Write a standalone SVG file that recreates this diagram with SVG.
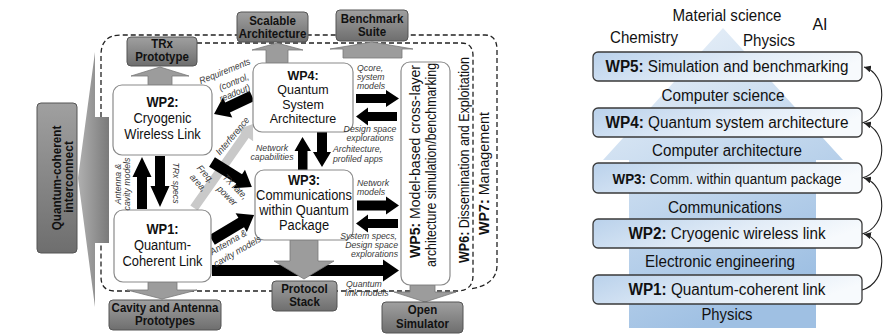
<svg xmlns="http://www.w3.org/2000/svg" width="896" height="334" viewBox="0 0 896 334">
<defs>
<linearGradient id="gbox" x1="0" y1="0" x2="0" y2="1"><stop offset="0" stop-color="#a0a0a0"/><stop offset="1" stop-color="#6e6e6e"/></linearGradient>
<linearGradient id="gtri" x1="0" y1="0" x2="1" y2="0"><stop offset="0" stop-color="#b0b0b0"/><stop offset="1" stop-color="#7a7a7a"/></linearGradient>
<linearGradient id="gblue" x1="0" y1="0" x2="0.4" y2="1"><stop offset="0" stop-color="#eef4fa"/><stop offset="0.5" stop-color="#c8dbef"/><stop offset="1" stop-color="#9fc0e3"/></linearGradient>
<linearGradient id="gwp" x1="0" y1="0" x2="1" y2="0.3"><stop offset="0" stop-color="#b9d1eb"/><stop offset="0.6" stop-color="#e2ecf7"/><stop offset="1" stop-color="#f7fafd"/></linearGradient>
<marker id="ah" viewBox="0 0 8 8" refX="8" refY="4" markerWidth="7" markerHeight="7" markerUnits="userSpaceOnUse" orient="auto"><path d="M0,0 L8,4 L0,8 z" fill="#222"/></marker>
<style>
.t{font-family:"Liberation Sans",Arial,sans-serif;fill:#111}
.bx14{font-size:14px;text-anchor:middle}
.bx13{font-size:13px;text-anchor:middle}
.gl{font-size:12.5px;font-weight:bold;text-anchor:middle}
.lb{font-size:9.5px;font-style:italic;fill:#3a3a3a}
.wb{fill:#fff;stroke:#8a8a8a;stroke-width:1.2}
.gb{fill:url(#gbox);stroke:#555;stroke-width:1}
.ga{fill:#9c9c9c;stroke:#7a7a7a;stroke-width:0.8}
.ba{fill:#000}
.dash{fill:none;stroke:#222;stroke-width:1.3;stroke-dasharray:5 3}
.rb{fill:url(#gwp);stroke:#3a3a3a;stroke-width:1.3}
.rt{font-size:16px;text-anchor:middle}
.rt14{font-size:14px;text-anchor:middle}
.cv{fill:none;stroke:#222;stroke-width:1.1}
</style>
</defs>
<rect width="896" height="334" fill="#fff"/>

<g id="boundaries">
<path class="dash" d="M101,117 V55 Q101,35 121,35 H485 Q497,35 497,50 V265 Q497,285 470,289"/>
<path class="dash" d="M197,43 H461 Q473,43 473,56 V275 Q473,291 457,291 H115 Q101,291 101,277 V243"/>
</g>

<g id="connectors">
<polygon points="95,52 95,117 109,117 109,243 95,243 95,307 78,178" fill="url(#gtri)"/>
<polygon class="ga" points="148,85 148,76 131,76 160,67 189,76 172,76 172,85"/>
<polygon class="ga" points="266,63 266,50 252,50 277,43 303,50 288,50 288,63"/>
<polygon class="ga" points="343,58 343,49 330,49 372,42 413,49 402,49 402,58"/>
<polygon class="ga" points="148,282 177,282 177,290 197,290 162,299 127,290 148,290"/>
<polygon class="ga" points="410,285 435,285 435,292 456,292 425,302 394,292 410,292"/>
<polygon class="ba" points="212,265 383,265 383,259.5 399,270.5 383,281.5 383,276 212,276"/>
<polygon class="ga" points="290,240 318,240 318,261 334,261 304,279 274,261 290,261"/>
<polygon fill="#c9c9c9" points="0,-4.5 88.6,-4.5 88.6,-10 102.6,0 88.6,10 88.6,4.5 0,4.5" transform="translate(194,208) rotate(-54.9)"/>
<polygon class="ba" points="0,-5.5 27,-5.5 27,-11 42,0 27,11 27,5.5 0,5.5" transform="translate(252,96) rotate(154.7)"/>
<polygon class="ba" points="0,-5.5 32,-5.5 32,-11 47,0 32,11 32,5.5 0,5.5" transform="translate(212,162) rotate(32)"/>
<polygon class="ba" points="0,-5.5 34,-5.5 34,-11 49,0 34,11 34,5.5 0,5.5" transform="translate(212,240) rotate(-30.8)"/>
<polygon class="ba" points="137,209 137,177 132.5,177 142,157 151.5,177 147,177 147,209"/>
<polygon class="ba" points="155,156 165,156 165,186 169.5,186 160,207 150.5,186 155,186"/>
<polygon class="ba" points="298,171 298,151 294.5,151 302.5,137 311,151 307.5,151 307.5,171"/>
<polygon class="ba" points="317,132 327,132 327,152 331,152 322,167 313,152 317,152"/>
<polygon class="ba" points="356,94 386,94 386,90 399,98.5 386,107 386,103 356,103"/>
<polygon class="ba" points="397,112 368,112 368,107.5 356,116.5 368,125.5 368,121 397,121"/>
<polygon class="ba" points="357,200.5 386,200.5 386,196.5 399,205.5 386,214.5 386,210.5 357,210.5"/>
<polygon class="ba" points="398,219 368,219 368,214.5 356,223.5 368,232.5 368,228 398,228"/>
<path class="cv" marker-end="url(#ah)" d="M862,290 C888,283 888,240 864,234"/>
<path class="cv" marker-end="url(#ah)" d="M862,234 C888,227 888,185 864,178"/>
<path class="cv" marker-end="url(#ah)" d="M862,178 C888,171 888,130 864,123"/>
<path class="cv" marker-end="url(#ah)" d="M862,123 C888,116 888,74 864,67"/>
</g>

<g id="interconnect"><rect class="gb" x="37" y="103" width="40" height="150" rx="4"/>
<g class="t" font-weight="bold" font-size="13" text-anchor="middle"><text transform="translate(61,178) rotate(-90) scale(0.9,1)">Quantum-coherent</text><text transform="translate(73,177) rotate(-90) scale(0.92,1)">interconnect</text></g></g>

<g id="wp2"><rect class="wb" x="113" y="85" width="99" height="70" rx="9"/>
<g class="t bx14" transform="translate(162.5,0) scale(0.92,1)"><text y="107.5" font-weight="bold">WP2:</text><text y="123.5">Cryogenic</text><text y="139.5">Wireless Link</text></g></g>

<g id="wp1"><rect class="wb" x="114" y="210" width="97" height="72" rx="9"/>
<g class="t bx14" transform="translate(162.5,0) scale(0.92,1)"><text y="234.5" font-weight="bold">WP1:</text><text y="250.5">Quantum-</text><text y="266.5">Coherent Link</text></g></g>

<g id="wp4"><rect class="wb" x="253" y="63" width="100" height="69" rx="9"/>
<g class="t bx13" transform="translate(303,0) scale(0.96,1)"><text y="80" font-weight="bold">WP4:</text><text y="94.5">Quantum</text><text y="109">System</text><text y="123.5">Architecture</text></g></g>

<g id="wp3"><rect class="wb" x="255" y="170" width="98" height="70" rx="9"/>
<g class="t bx14" transform="translate(304,0) scale(0.92,1)"><text y="185" font-weight="bold">WP3:</text><text y="200">Communications</text><text y="215">within Quantum</text><text y="230">Package</text></g></g>

<g id="wp5"><rect class="wb" x="401" y="62" width="49" height="223" rx="9"/>
<g class="t" font-size="15"><text transform="translate(420,258) rotate(-90)" textLength="193" lengthAdjust="spacingAndGlyphs"><tspan font-weight="bold">WP5:</tspan> Model-based cross-layer</text><text transform="translate(436,267) rotate(-90)" textLength="204" lengthAdjust="spacingAndGlyphs">architecture simulation/benchmarking</text></g></g>

<g id="wp6"><text class="t" font-size="15" transform="translate(469,263) rotate(-90)" textLength="206" lengthAdjust="spacingAndGlyphs"><tspan font-weight="bold">WP6:</tspan> Dissemination and Exploitation</text></g>
<g id="wp7"><text class="t" font-size="15" transform="translate(489,235) rotate(-90)" textLength="123" lengthAdjust="spacingAndGlyphs"><tspan font-weight="bold">WP7:</tspan> Management</text></g>

<g id="trx"><rect class="gb" x="127" y="37" width="70" height="29" rx="4"/><g class="t gl" transform="translate(162,0) scale(0.92,1)"><text y="48">TRx</text><text y="61">Prototype</text></g></g>
<g id="scalable"><rect class="gb" x="237" y="12" width="71" height="30" rx="4"/><g class="t gl" transform="translate(272.5,0) scale(0.92,1)"><text y="25">Scalable</text><text y="38">Architecture</text></g></g>
<g id="benchmark"><rect class="gb" x="336" y="10" width="72" height="31" rx="4"/><g class="t gl" transform="translate(372,0) scale(0.92,1)"><text y="23">Benchmark</text><text y="36">Suite</text></g></g>
<g id="cavity"><rect class="gb" x="109" y="300" width="112" height="30" rx="4"/><g class="t gl" transform="translate(165,0) scale(0.92,1)"><text y="312">Cavity and Antenna</text><text y="325">Prototypes</text></g></g>
<g id="protocol"><rect class="gb" x="272" y="281" width="65" height="30" rx="4"/><g class="t gl" transform="translate(304.5,0) scale(0.92,1)"><text y="293">Protocol</text><text y="306">Stack</text></g></g>
<g id="opensim"><rect class="gb" x="382" y="302" width="81" height="31" rx="4"/><g class="t gl" transform="translate(422.5,0) scale(0.92,1)"><text y="314">Open</text><text y="328">Simulator</text></g></g>

<g id="labels" class="t lb">
<text text-anchor="middle" transform="translate(226,74) rotate(-22) scale(0.92,1)">Requirements</text>
<text text-anchor="middle" transform="translate(235,85) rotate(-22) scale(0.92,1)">(control,</text>
<text text-anchor="middle" transform="translate(236,96) rotate(-22) scale(0.92,1)">readout)</text>
<text text-anchor="middle" transform="translate(121,184) rotate(-90) scale(0.92,1)">Antenna &amp;</text>
<text text-anchor="middle" transform="translate(130,184) rotate(-90) scale(0.92,1)">cavity models</text>
<text text-anchor="middle" transform="translate(173,183) rotate(90) scale(0.92,1)">TRx specs</text>
<text text-anchor="middle" transform="translate(235,138) rotate(-50) scale(0.92,1)">Interference</text>
<text text-anchor="middle" transform="translate(203,176) rotate(48) scale(0.92,1)">Freq.</text>
<text text-anchor="middle" transform="translate(196,185) rotate(48) scale(0.92,1)">area,</text>
<text text-anchor="middle" transform="translate(233,189) rotate(45) scale(0.92,1)">TX rate,</text>
<text text-anchor="middle" transform="translate(225,198) rotate(45) scale(0.92,1)">power</text>
<text text-anchor="middle" transform="translate(230,245) rotate(-30) scale(0.92,1)">Antenna &amp;</text>
<text text-anchor="middle" transform="translate(239,254) rotate(-30) scale(0.92,1)">cavity models</text>
<text text-anchor="middle" transform="translate(272,151) scale(0.92,1)">Network</text>
<text text-anchor="middle" transform="translate(272,160) scale(0.92,1)">capabilities</text>
<text transform="translate(333,152) scale(0.92,1)">Architecture,</text>
<text transform="translate(333,162) scale(0.92,1)">profiled apps</text>
<text transform="translate(357,71) scale(0.92,1)">Qcore,</text>
<text transform="translate(357,80) scale(0.92,1)">system</text>
<text transform="translate(357,89) scale(0.92,1)">models</text>
<text text-anchor="middle" transform="translate(370,132) scale(0.92,1)">Design space</text>
<text text-anchor="middle" transform="translate(370,141) scale(0.92,1)">explorations</text>
<text transform="translate(357,186) scale(0.92,1)">Network</text>
<text transform="translate(357,195) scale(0.92,1)">models</text>
<text text-anchor="end" transform="translate(397,239) scale(0.92,1)">System specs,</text>
<text text-anchor="end" transform="translate(398,248) scale(0.92,1)">Design space</text>
<text text-anchor="end" transform="translate(398,257) scale(0.92,1)">explorations</text>
<text transform="translate(346,287) scale(0.92,1)">Quantum</text>
<text transform="translate(345,296) scale(0.92,1)">link models</text>
</g>

<g id="right">
<polygon points="723,28 843,160 816,160 816,328 629,328 629,160 603,160" fill="url(#gblue)"/>
<g class="t rt">
<text x="727" y="21" textLength="109" lengthAdjust="spacingAndGlyphs">Material science</text>
<text x="820" y="30">AI</text>
<text x="644" y="43" textLength="68" lengthAdjust="spacingAndGlyphs">Chemistry</text>
<text x="769" y="46" textLength="52" lengthAdjust="spacingAndGlyphs">Physics</text>
<text x="723" y="101" textLength="123" lengthAdjust="spacingAndGlyphs">Computer science</text>
<text x="727" y="156" textLength="150" lengthAdjust="spacingAndGlyphs">Computer architecture</text>
<text x="725" y="213" textLength="114" lengthAdjust="spacingAndGlyphs">Communications</text>
<text x="720" y="267" textLength="150" lengthAdjust="spacingAndGlyphs">Electronic engineering</text>
<text x="727" y="320" textLength="51" lengthAdjust="spacingAndGlyphs">Physics</text>
</g>
<g id="rwp5"><rect class="rb" x="593" y="52" width="269" height="29" rx="5"/><text class="t rt" x="727" y="72" textLength="243" lengthAdjust="spacingAndGlyphs"><tspan font-weight="bold">WP5:</tspan> Simulation and benchmarking</text></g>
<g id="rwp4"><rect class="rb" x="593" y="108" width="269" height="29" rx="5"/><text class="t rt" x="727" y="128" textLength="243" lengthAdjust="spacingAndGlyphs"><tspan font-weight="bold">WP4:</tspan> Quantum system architecture</text></g>
<g id="rwp3"><rect class="rb" x="593" y="163" width="269" height="30" rx="5"/><text class="t rt14" x="727" y="183.5" textLength="229" lengthAdjust="spacingAndGlyphs"><tspan font-weight="bold">WP3:</tspan> Comm. within quantum package</text></g>
<g id="rwp2"><rect class="rb" x="593" y="219" width="269" height="29" rx="5"/><text class="t rt" x="727" y="239" textLength="197" lengthAdjust="spacingAndGlyphs"><tspan font-weight="bold">WP2:</tspan> Cryogenic wireless link</text></g>
<g id="rwp1"><rect class="rb" x="593" y="275" width="269" height="29" rx="5"/><text class="t rt" x="727" y="295" textLength="197" lengthAdjust="spacingAndGlyphs"><tspan font-weight="bold">WP1:</tspan> Quantum-coherent link</text></g>
</g>
</svg>
